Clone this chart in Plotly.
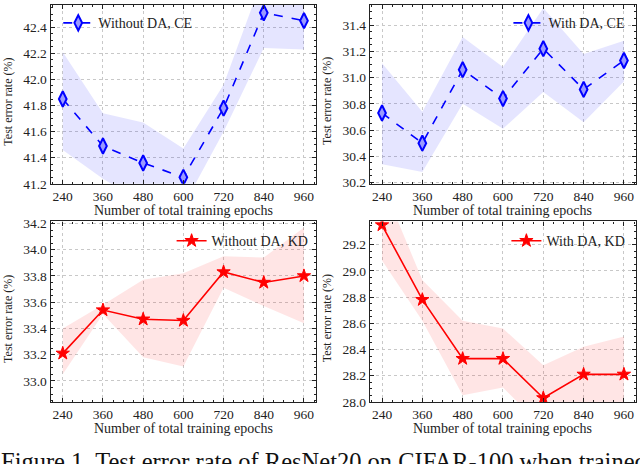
import plotly.graph_objects as go

epochs = [240, 360, 480, 600, 720, 840, 960]
tick_text = ["240", "360", "480", "600", "720", "840", "960"]

# without DA, cross-entropy
ce_noda_mean  = [41.85, 41.49, 41.36, 41.25, 41.78, 42.51, 42.45]
ce_noda_upper = [42.21, 41.74, 41.67, 41.47, 41.96, 42.80, 42.68]
ce_noda_lower = [41.46, 41.24, 41.05, 41.03, 41.60, 42.24, 42.23]

# with DA, cross-entropy
ce_da_mean  = [30.73, 30.50, 31.06, 30.84, 31.22, 30.91, 31.13]
ce_da_upper = [31.11, 30.74, 31.31, 31.08, 31.53, 31.18, 31.28]
ce_da_lower = [30.34, 30.28, 30.80, 30.61, 30.89, 30.66, 30.97]

# without DA, KD
kd_noda_mean  = [33.21, 33.54, 33.47, 33.46, 33.83, 33.75, 33.80]
kd_noda_upper = [33.40, 33.58, 33.77, 33.82, 33.95, 33.94, 34.17]
kd_noda_lower = [33.05, 33.51, 33.18, 33.11, 33.71, 33.57, 33.44]

# with DA, KD
kd_da_mean  = [29.35, 28.78, 28.33, 28.33, 28.03, 28.21, 28.21]
kd_da_upper = [29.67, 28.93, 28.62, 28.56, 28.28, 28.42, 28.50]
kd_da_lower = [29.08, 28.62, 28.05, 28.11, 27.80, 27.98, 27.92]

FONT = "Liberation Serif, Times New Roman, serif"
BLUE = "#0000ff"
RED = "#ff0000"

panels = [
    # name, mean, upper, lower, y range, colour, band, dash, symbol, legend
    ("Without DA, CE", ce_noda_mean, ce_noda_upper, ce_noda_lower, [41.2, 42.57], BLUE,
     "rgba(0,0,255,0.1)", "dash", "diamond-tall", "legend"),
    ("With DA, CE", ce_da_mean, ce_da_upper, ce_da_lower, [30.19, 31.553], BLUE,
     "rgba(0,0,255,0.1)", "dash", "diamond-tall", "legend2"),
    ("Without DA, KD", kd_noda_mean, kd_noda_upper, kd_noda_lower, [32.84, 34.215], RED,
     "rgba(255,0,0,0.1)", "solid", "star", "legend3"),
    ("With DA, KD", kd_da_mean, kd_da_upper, kd_da_lower, [28.0, 29.377], RED,
     "rgba(255,0,0,0.1)", "solid", "star", "legend4"),
]

x_domains = [[0.0792, 0.4938], [0.578, 0.9938]]
y_domains = [[0.6034, 1.0], [0.12, 0.52]]

fig = go.Figure()

for i, (name, mean, upper, lower, yr, col, band, dash, sym, leg) in enumerate(panels):
    n = i + 1
    xa = "x" if n == 1 else f"x{n}"
    ya = "y" if n == 1 else f"y{n}"

    # shaded band
    fig.add_trace(go.Scatter(
        x=epochs + epochs[::-1],
        y=upper + lower[::-1],
        fill="toself",
        fillcolor=band,
        line=dict(width=0),
        mode="lines",
        showlegend=False,
        hoverinfo="skip",
        xaxis=xa, yaxis=ya,
    ))

    if sym == "star":
        marker = dict(symbol="star", size=10, color=col, line=dict(color=col, width=1))
    else:
        marker = dict(symbol="diamond-tall", size=11, color="#9a9aff", line=dict(color=col, width=2))

    fig.add_trace(go.Scatter(
        x=epochs, y=mean,
        mode="lines+markers",
        line=dict(color=col, width=1.6, dash=dash),
        marker=marker,
        name=name,
        legend=leg,
        xaxis=xa, yaxis=ya,
    ))

    r, c = i // 2, i % 2
    axis_common = dict(
        showline=True, linecolor="#222222", linewidth=1.3, mirror="ticks",
        ticks="inside", ticklen=4, tickcolor="#222222", tickwidth=1,
        showgrid=True, gridcolor="#c8c8c8", griddash="dot", gridwidth=0.8,
        zeroline=False,
        tickfont=dict(family=FONT, size=13.5, color="#222222"),
    )
    fig.update_layout({
        f"xaxis{'' if n == 1 else n}": dict(
            domain=x_domains[c], anchor=ya, range=[204, 996],
            tickvals=epochs, ticktext=tick_text,
            minor=dict(dtick=30, tick0=0, ticks="inside", ticklen=2, tickcolor="#222222", showgrid=False),
            **axis_common),
        f"yaxis{'' if n == 1 else n}": dict(
            domain=y_domains[r], anchor=xa, range=yr,
            dtick=0.2, tickformat=".1f",
            minor=dict(dtick=0.05, ticks="inside", ticklen=2, tickcolor="#222222", showgrid=False),
            **axis_common),
    })

    # axis titles
    x_mid = sum(x_domains[c]) / 2
    fig.add_annotation(
        text="Number of total training epochs", xref="paper", yref="paper",
        x=x_mid, y=y_domains[r][0] - 0.058, xanchor="center", yanchor="middle",
        showarrow=False, font=dict(family=FONT, size=14, color="#222222"))
    fig.add_annotation(
        text="Test error rate (%)", xref="paper", yref="paper",
        x=x_domains[c][0] - 0.066, y=sum(y_domains[r]) / 2 - 0.015, xanchor="center", yanchor="middle",
        textangle=-90, showarrow=False, font=dict(family=FONT, size=12, color="#222222"))

legend_common = dict(bgcolor="rgba(0,0,0,0)", borderwidth=0,
                     font=dict(family=FONT, size=14, color="#222222"), yanchor="top")

fig.update_layout(
    width=640, height=464,
    margin=dict(l=0, r=0, t=0, b=0),
    paper_bgcolor="white", plot_bgcolor="white",
    legend=dict(x=0.091, y=0.995, xanchor="left", **legend_common),
    legend2=dict(x=0.985, y=0.995, xanchor="right", **legend_common),
    legend3=dict(x=0.49, y=0.512, xanchor="right", **legend_common),
    legend4=dict(x=0.985, y=0.512, xanchor="right", **legend_common),
)

fig.add_annotation(
    text="Figure 1. Test error rate of ResNet20 on CIFAR-100 when trained",
    xref="paper", yref="paper", x=-0.002, y=-0.047, xanchor="left", yanchor="bottom",
    showarrow=False, font=dict(family=FONT, size=24.5, color="#111111"))

# drop the page's default body margin so the figure sits at the window corner
fig.write_html("out.html", config={"displayModeBar": False},
               post_script="document.body.style.margin='0';")
